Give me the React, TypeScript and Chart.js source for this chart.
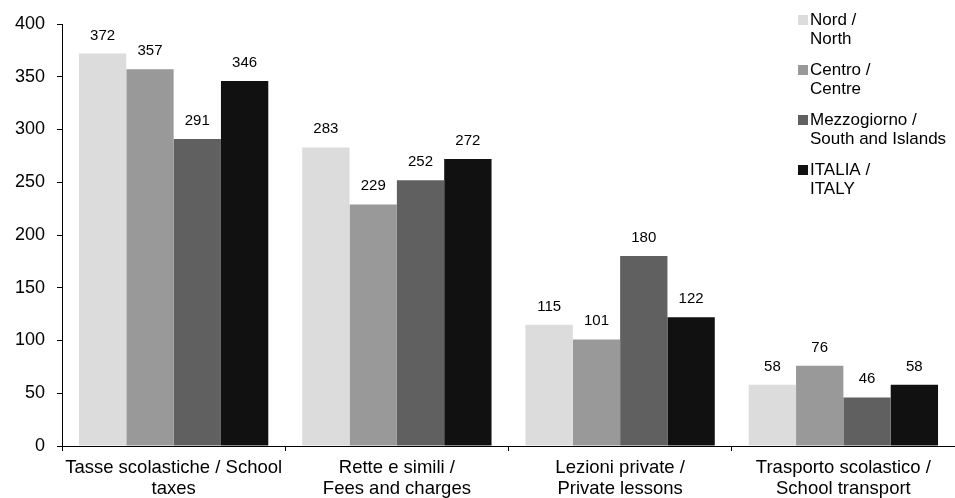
import React, { useEffect, useRef } from "react";
import { Chart, registerables } from "chart.js";

Chart.register(...registerables);

const categories: string[][] = [
  ["Tasse scolastiche / School", "taxes"],
  ["Rette e simili /", "Fees and charges"],
  ["Lezioni private /", "Private lessons"],
  ["Trasporto scolastico /", "School transport"],
];

const seriesNames: string[][] = [
  ["Nord /", "North"],
  ["Centro /", "Centre"],
  ["Mezzogiorno /", "South and Islands"],
  ["ITALIA /", "ITALY"],
];

const nord = [372, 283, 115, 58];
const centro = [357, 229, 101, 76];
const mezzogiorno = [291, 252, 180, 46];
const italia = [346, 272, 122, 58];

const colors = ["#dcdcdc", "#999999", "#606060", "#111111"];
const FONT = "'Liberation Sans', Arial, sans-serif";

const valueLabels = {
  id: "valueLabels",
  afterDatasetsDraw(chart: any) {
    const ctx = chart.ctx;
    ctx.save();
    ctx.font = `15px ${FONT}`;
    ctx.fillStyle = "#000";
    ctx.textAlign = "center";
    ctx.textBaseline = "alphabetic";
    chart.data.datasets.forEach((ds: any, i: number) => {
      const meta = chart.getDatasetMeta(i);
      meta.data.forEach((el: any, j: number) => {
        ctx.fillText(String(ds.data[j]), el.x, el.y - 14);
      });
    });
    ctx.restore();
  },
};

const customLegend = {
  id: "customLegend",
  afterDraw(chart: any) {
    const ctx = chart.ctx;
    ctx.save();
    ctx.font = `17px ${FONT}`;
    ctx.textBaseline = "middle";
    ctx.textAlign = "left";
    seriesNames.forEach((lines, i) => {
      const y = 20 + i * 50;
      ctx.fillStyle = colors[i];
      ctx.fillRect(798, y - 5, 10, 10);
      ctx.fillStyle = "#000";
      lines.forEach((t, k) => ctx.fillText(t, 810, y + k * 19));
    });
    ctx.restore();
  },
};

export default function App() {
  const ref = useRef<HTMLCanvasElement>(null);
  useEffect(() => {
    if (!ref.current) return;
    const names = seriesNames.map((s) => s.join(" "));
    const chart = new Chart(ref.current, {
      type: "bar",
      data: {
        labels: categories,
        datasets: [nord, centro, mezzogiorno, italia].map((d, i) => ({
          label: names[i],
          data: d,
          backgroundColor: colors[i],
          borderWidth: 0,
          categoryPercentage: 0.848,
          barPercentage: 1,
        })),
      },
      options: {
        responsive: false,
        animation: false,
        layout: { padding: { top: 24, right: 0, left: 0, bottom: 0 } },
        plugins: { legend: { display: false }, tooltip: { enabled: false } },
        scales: {
          x: {
            grid: {
              display: true,
              drawOnChartArea: false,
              drawTicks: true,
              tickLength: 5,
              color: "#000",
              offset: true,
            },
            border: { display: true, color: "#000", width: 1 },
            ticks: {
              color: "#000",
              font: { family: FONT, size: 18.5, lineHeight: 1.1 },
              padding: 7,
              maxRotation: 0,
              autoSkip: false,
            },
            afterFit(scale: any) {
              scale.height = 52;
            },
          },
          y: {
            min: 0,
            max: 400,
            grid: {
              display: true,
              drawOnChartArea: false,
              drawTicks: true,
              tickLength: 5,
              color: "#000",
            },
            border: { display: true, color: "#000", width: 1 },
            ticks: {
              stepSize: 50,
              color: "#000",
              font: { family: FONT, size: 18 },
              padding: 12,
            },
            afterFit(scale: any) {
              scale.width = 62;
            },
          },
        },
      },
      plugins: [valueLabels, customLegend],
    });
    return () => chart.destroy();
  }, []);
  return (
    <div style={{ position: "fixed", left: 0, top: 0, width: 955, height: 498, background: "#fff" }}>
      <canvas ref={ref} width={955} height={498} style={{ width: 955, height: 498, display: "block" }} />
    </div>
  );
}
